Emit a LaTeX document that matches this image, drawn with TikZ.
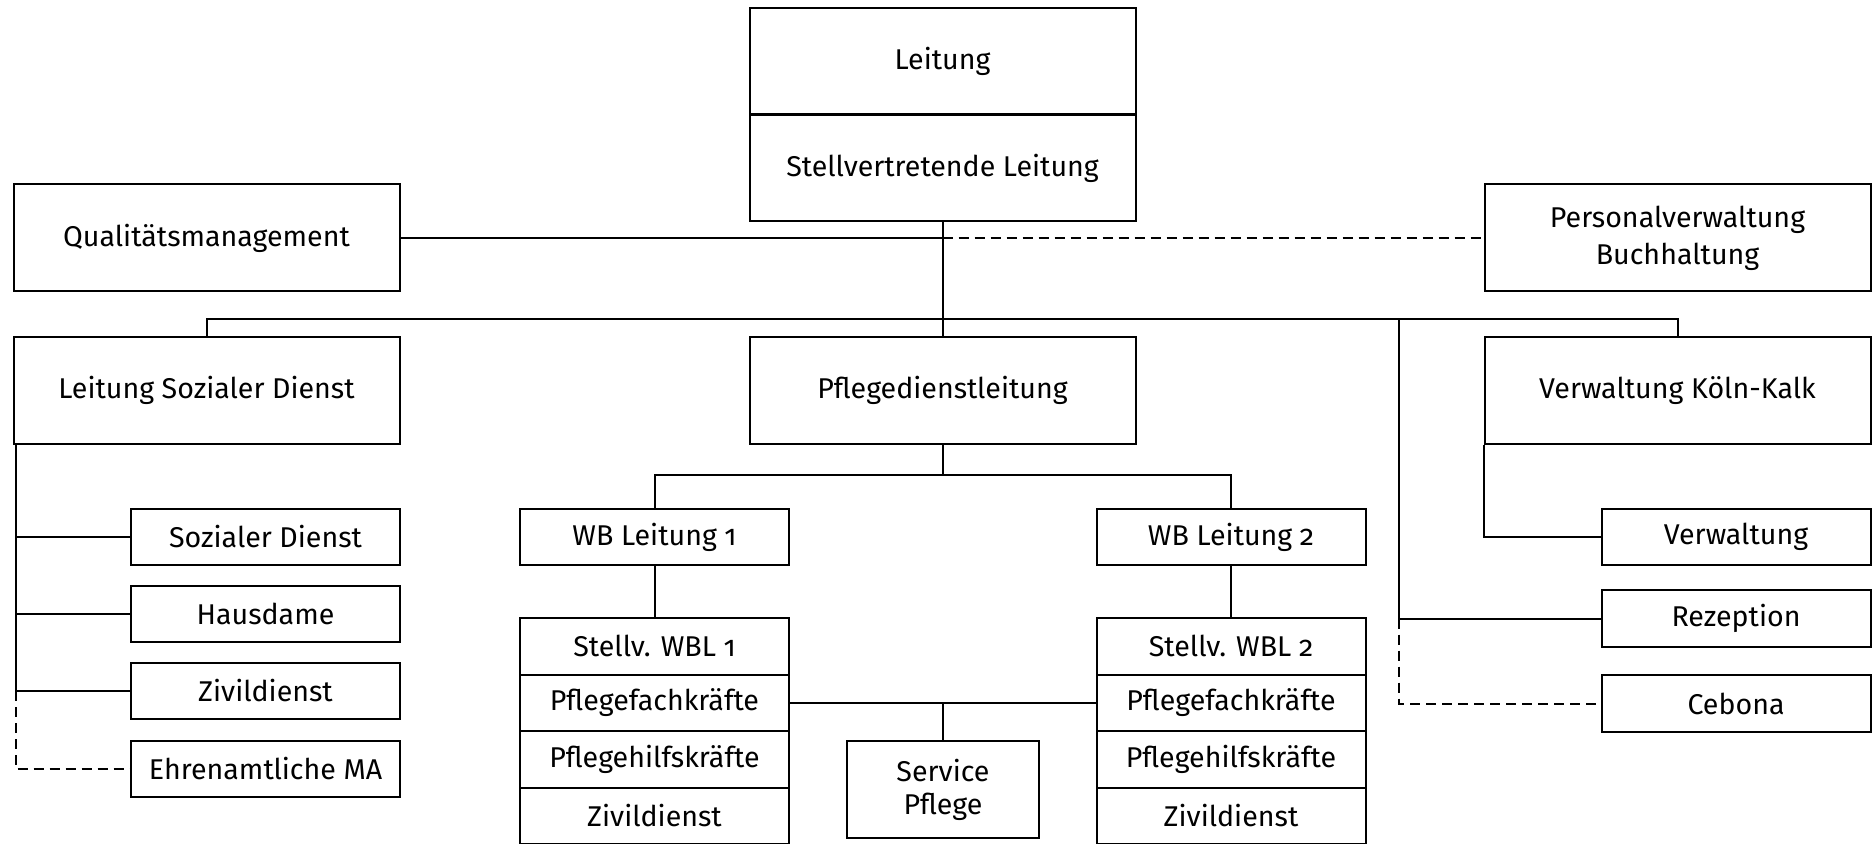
\documentclass[tikz,border=0pt]{standalone}
\usepackage{fontspec}
\setmainfont{Fira Sans}[Numbers=OldStyle]
\usetikzlibrary{positioning}

\tikzset{
  box/.style={draw, line width=1pt, inner sep=0pt, align=center, font=\fontsize{14.3}{16.5}\selectfont},
  bigbox/.style={box, minimum width=193pt, minimum height=53.5pt},
  smallbox/.style={box, minimum width=134.5pt, minimum height=28.25pt},
  link/.style={line width=1pt},
  weaklink/.style={line width=1pt, dashed, dash pattern=on 5pt off 3pt}
}

\begin{document}
\begin{tikzpicture}[x=0.5pt, y=-0.5pt]
\useasboundingbox (0,0) rectangle (1872,844);

% Leitung oben
\node[bigbox] (leitung) at (942.5,61.5) {Leitung};
\node[bigbox] (stellv) at (942.5,168) {Stellvertretende Leitung};

% Stabsstellen
\node[bigbox] (qm) at (206.5,238) {Qualitätsmanagement};
\node[bigbox, font=\fontsize{14.3}{18.5}\selectfont] (pv) at (1677.5,238) {Personalverwaltung\\Buchhaltung};

% zweite Ebene
\node[bigbox] (lsd) at (206.5,390.5) {Leitung Sozialer Dienst};
\node[bigbox] (pdl) at (942.5,390.5) {Pflegedienstleitung};
\node[bigbox] (vkk) at (1677.5,390.5) {Verwaltung Köln-Kalk};

% Sozialer Dienst
\node[smallbox] (sd) at (265.5,537) {Sozialer Dienst};
\node[smallbox] (hd) at (265.5,614) {Hausdame};
\node[smallbox] (zd) at (265.5,691) {Zivildienst};
\node[smallbox] (ea) at (265.5,769) {Ehrenamtliche MA};

% Wohnbereiche
\node[smallbox] (wba) at (654.5,537) {WB Leitung 1};
\node[smallbox] (wbb) at (1231,537) {WB Leitung 2};
\node[smallbox] (wbaa) at (654.5,646.25) {Stellv. WBL 1};
\node[smallbox] (wbab) at (654.5,702.75) {Pflegefachkräfte};
\node[smallbox] (wbac) at (654.5,759.25) {Pflegehilfskräfte};
\node[smallbox] (wbad) at (654.5,815.75) {Zivildienst};
\node[smallbox] (wbba) at (1231,646.25) {Stellv. WBL 2};
\node[smallbox] (wbbb) at (1231,702.75) {Pflegefachkräfte};
\node[smallbox] (wbbc) at (1231,759.25) {Pflegehilfskräfte};
\node[smallbox] (wbbd) at (1231,815.75) {Zivildienst};
\node[box, minimum width=96pt, minimum height=48.5pt] (sp) at (943,789.5) {Service\\Pflege};

% Verwaltung
\node[smallbox] (verw) at (1736,537) {Verwaltung};
\node[smallbox] (rez) at (1736,618.5) {Rezeption};
\node[smallbox] (ceb) at (1736,703.5) {Cebona};

\coordinate (bus) at (942.5,319);
\coordinate (rbus) at (1399,319);
\coordinate (pbus) at (942.5,475);

% Verbindungen
\draw[link] (stellv.south) -- (pdl.north);
\draw[link] (qm.east) -- (qm.east -| stellv.south);
\draw[weaklink] (qm.east -| stellv.south) -- (pv.west);
\draw[link] (lsd.north) |- (bus) -| (vkk.north);
\draw[link] (rbus) |- (rez.west);
\draw[weaklink] (rez.west -| rbus) |- (ceb.west);

\draw[link] ([xshift=1.5pt]lsd.south west) |- (zd.west);
\draw[link] ([xshift=1.5pt]lsd.south west |- sd.west) -- (sd.west);
\draw[link] ([xshift=1.5pt]lsd.south west |- hd.west) -- (hd.west);
\draw[weaklink] ([xshift=1.5pt]lsd.south west |- zd.west) |- (ea.west);

\draw[link] (vkk.south west) |- (verw.west);

\draw[link] (pdl.south) -- (pbus);
\draw[link] (wba.north) |- (pbus) -| (wbb.north);
\draw[link] (wba.south) -- (wbaa.north);
\draw[link] (wbb.south) -- (wbba.north);
\draw[link] (wbab.east) -- (wbbb.west);
\draw[link] (sp.north) -- (sp.north |- wbab.east);
\end{tikzpicture}
\end{document}
